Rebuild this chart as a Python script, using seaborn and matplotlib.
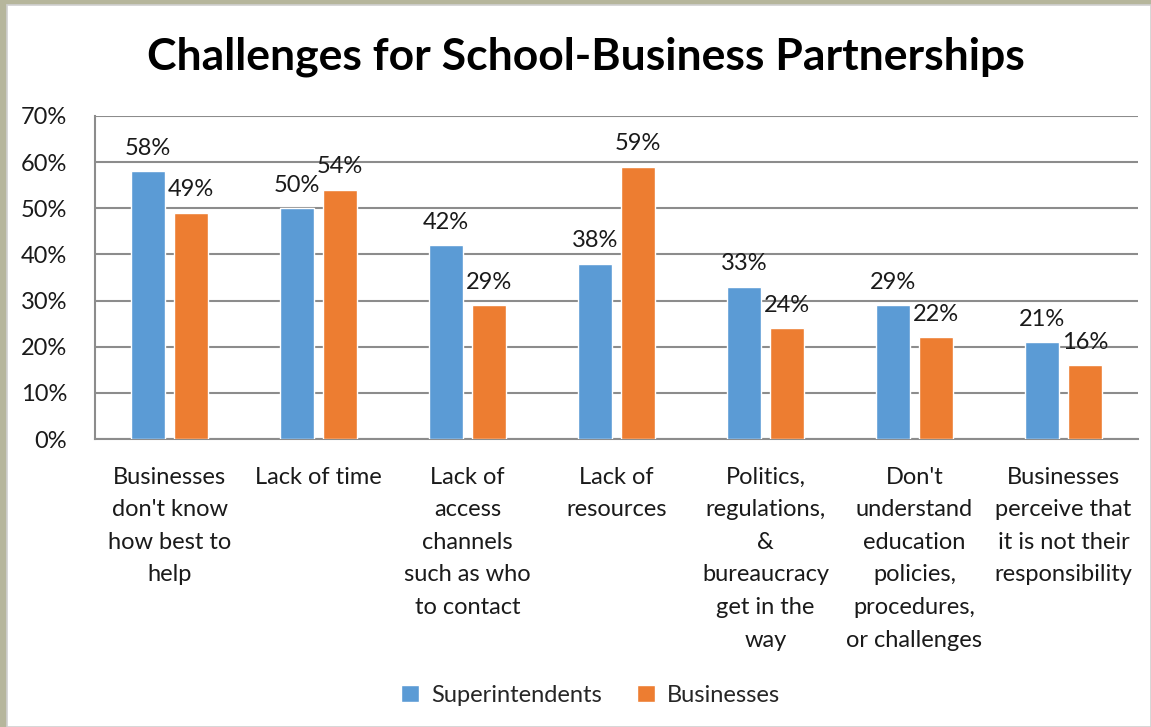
import matplotlib
matplotlib.use("Agg")
import matplotlib.pyplot as plt
from matplotlib.patches import Rectangle
import pandas as pd
import seaborn as sns

categories = [
    "Businesses\ndon't know\nhow best to\nhelp",
    "Lack of time",
    "Lack of\naccess\nchannels\nsuch as who\nto contact",
    "Lack of\nresources",
    "Politics,\nregulations,\n&\nbureaucracy\nget in the\nway",
    "Don't\nunderstand\neducation\npolicies,\nprocedures,\nor challenges",
    "Businesses\nperceive that\nit is not their\nresponsibility",
]
superintendents = [58, 50, 42, 38, 33, 29, 21]
businesses = [49, 54, 29, 59, 24, 22, 16]
series_names = ["Superintendents", "Businesses"]
y_ticks = [0, 10, 20, 30, 40, 50, 60, 70]

df = pd.DataFrame({
    "category": categories * 2,
    "group": [series_names[0]] * len(categories) + [series_names[1]] * len(categories),
    "value": superintendents + businesses,
})

sns.set_theme(style="white")
plt.rcParams["font.family"] = ["Lato", "DejaVu Sans"]

FS = 17
W, H = 1151, 727
fig = plt.figure(figsize=(W / 100, H / 100), dpi=100)
fig.patch.set_facecolor("#b6b69c")
# white chart area inside the frame
fig.patches.append(Rectangle((7 / W, 0), 1 - 7 / W, 1 - 5 / H, transform=fig.transFigure,
                             facecolor="white", edgecolor="#d0d0d0", linewidth=1.2, zorder=-5))

ax = fig.add_axes([95 / W, 288 / H, (1138 - 95) / W, (611 - 288) / H])
ax.set_zorder(2)
ax.set_facecolor("none")

palette = {"Superintendents": "#5b9bd5", "Businesses": "#ed7d31"}
sns.barplot(data=df, x="category", y="value", hue="group", palette=palette,
            width=0.58, gap=0.23, saturation=1, ax=ax, zorder=3, legend=True)

for cont in ax.containers:
    ax.bar_label(cont, fmt="%d%%", padding=9, fontsize=FS, color="#1a1a1a")

ax.set_ylim(0, 70)
ax.set_yticks(y_ticks)
ax.set_yticklabels([f"{t}%" for t in y_ticks], fontsize=FS, color="#1a1a1a")
ax.yaxis.grid(True, color="#8c8c8c", linewidth=1.5, zorder=0)
ax.xaxis.grid(False)
ax.set_axisbelow(True)
ax.tick_params(axis="y", length=0, pad=20)
ax.tick_params(axis="x", length=0, pad=20, labelsize=FS, labelcolor="#1a1a1a")
for lbl in ax.get_xticklabels():
    lbl.set_linespacing(1.68)
ax.set_xlabel("")
ax.set_ylabel("")
for side in ["top", "right"]:
    ax.spines[side].set_visible(False)
for side in ["left", "bottom"]:
    ax.spines[side].set_color("#8c8c8c")
    ax.spines[side].set_linewidth(1.5)

fig.text(0.509, 1 - 57 / H, "Challenges for School-Business Partnerships",
         ha="center", va="center", fontsize=32, fontweight="bold", color="black")

leg = ax.get_legend()
leg.remove()
handles, labels = ax.get_legend_handles_labels()
fig.legend(handles[:2], labels[:2], loc="center", bbox_to_anchor=(0.513, 1 - 695 / H),
           ncol=2, frameon=False, fontsize=FS, handlelength=0.75, handleheight=0.75,
           handletextpad=0.5, columnspacing=1.5)

fig.savefig("out.png", dpi=100, facecolor=fig.get_facecolor())
